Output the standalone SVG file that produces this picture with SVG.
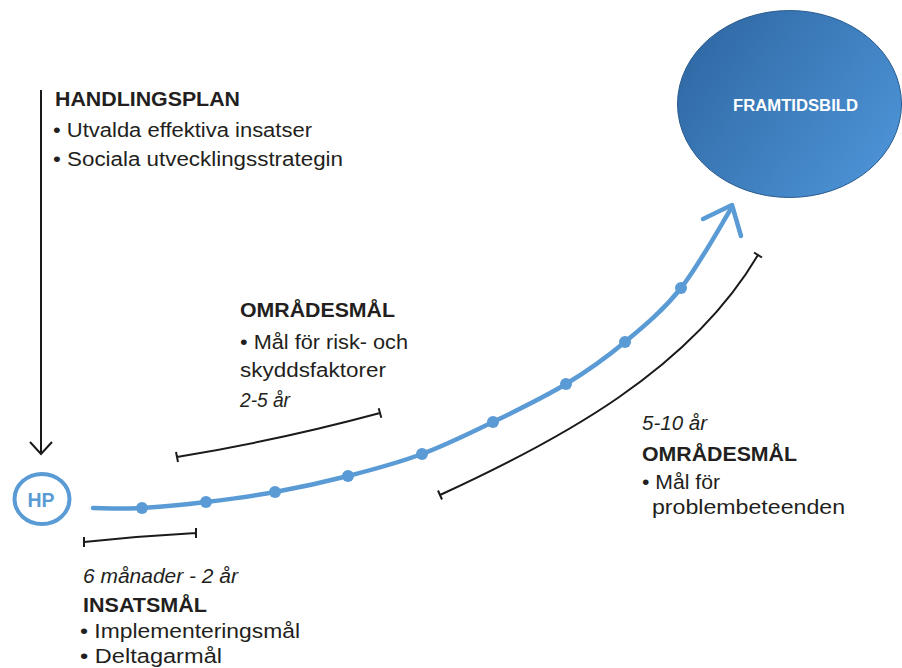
<svg xmlns="http://www.w3.org/2000/svg" width="902" height="668" viewBox="0 0 902 668">
<defs>
<linearGradient id="g" x1="0" y1="0" x2="1" y2="0.6">
<stop offset="0" stop-color="#2d649f"/>
<stop offset="1" stop-color="#4a90d2"/>
</linearGradient>
<style>
.t{font-family:"Liberation Sans",Arial,sans-serif;font-size:20px;fill:#231f20}
.b{font-weight:bold}
.i{font-style:italic}
.blk{fill:none;stroke:#1a1a1a;stroke-width:2}
.blu{fill:none;stroke:#5b9bd5;stroke-width:4.5;stroke-linecap:round;stroke-linejoin:round}
.dot{fill:#5b9bd5}
</style>
</defs>
<rect width="902" height="668" fill="#fff"/>
<g id="connectors">
<path class="blk" d="M41,90 V454 M30,442 L41,454 L52,442"/>
<path class="blu" d="M93,508 C101.2,508 123.2,509 142,508 C160.8,507 183.8,504.7 206,502 C228.2,499.3 251.3,496.3 275,492 C298.7,487.7 323.5,482.3 348,476 C372.5,469.7 397.8,463 422,454 C446.2,445 469,433.7 493,422 C517,410.3 544,397.3 566,384 C588,370.7 605.8,358 625,342 C644.2,326 663.2,310.5 681,288 C698.8,265.5 723.5,220.5 732,207"/>
<polyline class="blu" points="703,219 732,205 741,236"/>
<path class="blk" d="M84,542 Q140,536 196,533 M84,537 V547 M196,528 V538"/>
<path class="blk" d="M177,457 Q280,440 380,413 M176,452 L178,462 M378.7,408.2 L381.3,417.8"/>
<path class="blk" d="M440,495 C560,440 690,370 758,255 M438,490.5 L442,499.5 M754,252.5 L762,257.5"/>
<g class="dot">
<circle cx="142" cy="508" r="6"/>
<circle cx="206" cy="502" r="6"/>
<circle cx="275" cy="492" r="6"/>
<circle cx="348" cy="476" r="6"/>
<circle cx="422" cy="454" r="6"/>
<circle cx="493" cy="422" r="6"/>
<circle cx="566" cy="384" r="6"/>
<circle cx="625" cy="342" r="6"/>
<circle cx="681" cy="288" r="6"/>
</g>
</g>
<g id="hp">
<ellipse cx="42" cy="499" rx="27.5" ry="25" fill="#fff" stroke="#5b9bd5" stroke-width="4"/>
<text x="41" y="507" text-anchor="middle" style="font-family:'Liberation Sans',Arial,sans-serif;font-size:20px;font-weight:bold;fill:#5b9bd5" textLength="27" lengthAdjust="spacingAndGlyphs">HP</text>
</g>
<g id="framtidsbild">
<ellipse cx="789.5" cy="104" rx="112" ry="93.5" fill="url(#g)" stroke="#2a5b8e" stroke-width="1"/>
<text x="733" y="111" class="b" style="font-family:'Liberation Sans',Arial,sans-serif;font-size:16px;fill:#fff" textLength="125" lengthAdjust="spacingAndGlyphs">FRAMTIDSBILD</text>
</g>
<g id="handlingsplan">
<text class="t b" x="55" y="106" textLength="185" lengthAdjust="spacingAndGlyphs">HANDLINGSPLAN</text>
<text class="t" x="53" y="137" textLength="259" lengthAdjust="spacingAndGlyphs">• Utvalda effektiva insatser</text>
<text class="t" x="53" y="166" textLength="290" lengthAdjust="spacingAndGlyphs">• Sociala utvecklingsstrategin</text>
</g>
<g id="omradesmal-mid">
<text class="t b" x="240" y="317" textLength="155" lengthAdjust="spacingAndGlyphs">OMRÅDESMÅL</text>
<text class="t" x="240" y="349" textLength="168" lengthAdjust="spacingAndGlyphs">• Mål för risk- och</text>
<text class="t" x="240" y="377" textLength="146" lengthAdjust="spacingAndGlyphs">skyddsfaktorer</text>
<text class="t i" x="240" y="407" textLength="50" lengthAdjust="spacingAndGlyphs">2-5 år</text>
</g>
<g id="omradesmal-right">
<text class="t i" x="642" y="430" textLength="65" lengthAdjust="spacingAndGlyphs">5-10 år</text>
<text class="t b" x="642" y="461" textLength="155" lengthAdjust="spacingAndGlyphs">OMRÅDESMÅL</text>
<text class="t" x="642" y="489" textLength="78" lengthAdjust="spacingAndGlyphs">• Mål för</text>
<text class="t" x="652" y="514" textLength="193" lengthAdjust="spacingAndGlyphs">problembeteenden</text>
</g>
<g id="insatsmal">
<text class="t i" x="83" y="583" textLength="155" lengthAdjust="spacingAndGlyphs">6 månader - 2 år</text>
<text class="t b" x="83" y="612" textLength="124" lengthAdjust="spacingAndGlyphs">INSATSMÅL</text>
<text class="t" x="80" y="638" textLength="220" lengthAdjust="spacingAndGlyphs">• Implementeringsmål</text>
<text class="t" x="80" y="663" textLength="142" lengthAdjust="spacingAndGlyphs">• Deltagarmål</text>
</g>
</svg>
